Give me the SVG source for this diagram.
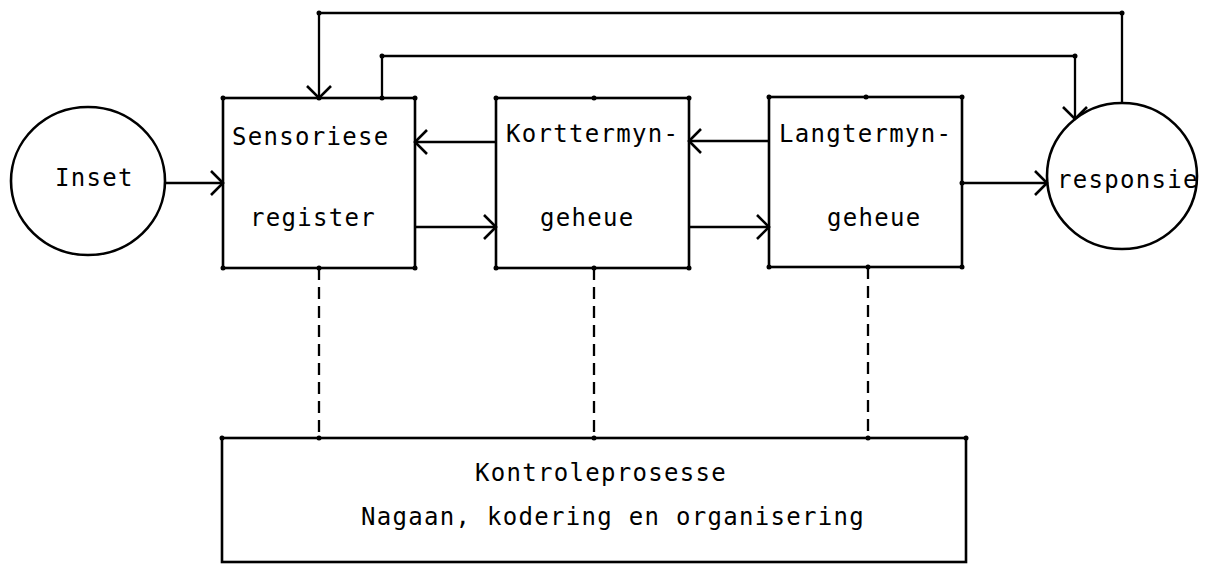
<svg xmlns="http://www.w3.org/2000/svg" width="1206" height="564" viewBox="0 0 1206 564">
  <style>
    .shape { fill: none; stroke: #000; stroke-width: 2.6; }
    .wire { fill: none; stroke: #000; stroke-width: 2.3; }
    .dash { fill: none; stroke: #000; stroke-width: 2.3; stroke-dasharray: 12 7; }
    .dot { fill: #000; }
    .label { font-family: "DejaVu Sans Mono", "Liberation Mono", monospace; font-size: 24px; letter-spacing: 1.3px; fill: #000; }
  </style>
  <defs>
    <marker id="chev" viewBox="0 0 12 24" refX="12" refY="12" markerWidth="12" markerHeight="24" markerUnits="userSpaceOnUse" orient="auto" overflow="visible">
      <path d="M0,0 L12,12 L0,24" fill="none" stroke="#000" stroke-width="2.6"/>
    </marker>
  </defs>
  <rect width="1206" height="564" fill="#fff"/>

  <g id="inset">
    <ellipse class="shape" cx="88" cy="181" rx="77" ry="74"/>
    <text class="label" x="55" y="186">Inset</text>
  </g>

  <g id="sensoriese-register">
    <rect class="shape" x="223" y="98" width="192" height="170"/>
    <text class="label" x="232" y="145">Sensoriese</text>
    <text class="label" x="250" y="226">register</text>
  </g>

  <g id="korttermyngeheue">
    <rect class="shape" x="496" y="98" width="193" height="170"/>
    <text class="label" x="506" y="142">Korttermyn-</text>
    <text class="label" x="540" y="226">geheue</text>
  </g>

  <g id="langtermyngeheue">
    <rect class="shape" x="769" y="97" width="193" height="170"/>
    <text class="label" x="779" y="142">Langtermyn-</text>
    <text class="label" x="827" y="226">geheue</text>
  </g>

  <g id="responsie">
    <ellipse class="shape" cx="1122" cy="176" rx="75" ry="73"/>
    <text class="label" x="1057" y="188">responsie</text>
  </g>

  <g id="kontroleprosesse">
    <rect class="shape" x="222" y="438" width="744" height="124"/>
    <text class="label" x="475" y="481">Kontroleprosesse</text>
    <text class="label" x="361" y="525">Nagaan, kodering en organisering</text>
  </g>

  <g id="connectors">
    <!-- forward flow -->
    <line class="wire" x1="166" y1="183" x2="223" y2="183" marker-end="url(#chev)"/>
    <line class="wire" x1="415" y1="227" x2="496" y2="227" marker-end="url(#chev)"/>
    <line class="wire" x1="689" y1="227" x2="769" y2="227" marker-end="url(#chev)"/>
    <line class="wire" x1="962" y1="183" x2="1047" y2="183" marker-end="url(#chev)"/>
    <!-- backward flow -->
    <line class="wire" x1="496" y1="142" x2="415" y2="142" marker-end="url(#chev)"/>
    <line class="wire" x1="769" y1="141" x2="689" y2="141" marker-end="url(#chev)"/>
    <!-- feedback loops over the top -->
    <polyline class="wire" points="1122,103 1122,13 319,13 319,98" marker-end="url(#chev)"/>
    <polyline class="wire" points="382,98 382,56 1075,56 1075,119" marker-end="url(#chev)"/>
    <!-- control links -->
    <line class="dash" x1="319" y1="268" x2="319" y2="438"/>
    <line class="dash" x1="594" y1="268" x2="594" y2="438"/>
    <line class="dash" x1="868" y1="267" x2="868" y2="438"/>
  </g>

  <g id="junctions">
    <circle class="dot" cx="223" cy="98" r="2.5"/>
    <circle class="dot" cx="415" cy="98" r="2.5"/>
    <circle class="dot" cx="223" cy="268" r="2.5"/>
    <circle class="dot" cx="415" cy="268" r="2.5"/>
    <circle class="dot" cx="319" cy="98" r="2.5"/>
    <circle class="dot" cx="382" cy="98" r="2.5"/>
    <circle class="dot" cx="319" cy="268" r="2.5"/>
    <circle class="dot" cx="496" cy="98" r="2.5"/>
    <circle class="dot" cx="689" cy="98" r="2.5"/>
    <circle class="dot" cx="496" cy="268" r="2.5"/>
    <circle class="dot" cx="689" cy="268" r="2.5"/>
    <circle class="dot" cx="594" cy="98" r="2.5"/>
    <circle class="dot" cx="594" cy="268" r="2.5"/>
    <circle class="dot" cx="769" cy="97" r="2.5"/>
    <circle class="dot" cx="962" cy="97" r="2.5"/>
    <circle class="dot" cx="769" cy="267" r="2.5"/>
    <circle class="dot" cx="962" cy="267" r="2.5"/>
    <circle class="dot" cx="866" cy="97" r="2.5"/>
    <circle class="dot" cx="868" cy="267" r="2.5"/>
    <circle class="dot" cx="962" cy="183" r="2.5"/>
    <circle class="dot" cx="319" cy="13" r="2.5"/>
    <circle class="dot" cx="1122" cy="13" r="2.5"/>
    <circle class="dot" cx="382" cy="56" r="2.5"/>
    <circle class="dot" cx="1075" cy="56" r="2.5"/>
    <circle class="dot" cx="222" cy="438" r="2.5"/>
    <circle class="dot" cx="966" cy="438" r="2.5"/>
    <circle class="dot" cx="319" cy="438" r="2.5"/>
    <circle class="dot" cx="594" cy="438" r="2.5"/>
    <circle class="dot" cx="868" cy="438" r="2.5"/>
  </g>
</svg>
